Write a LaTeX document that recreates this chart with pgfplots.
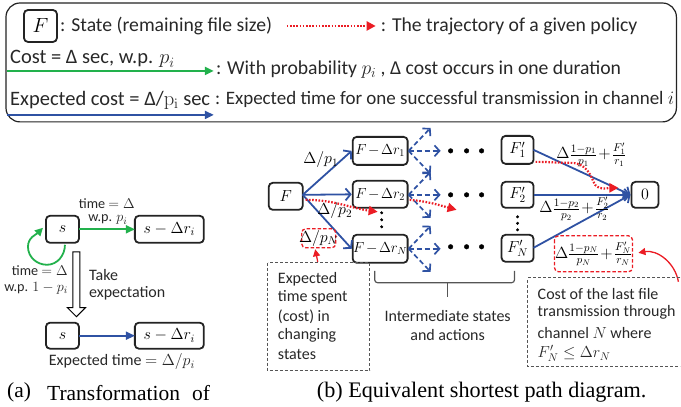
\RequirePackage{fix-cm}
\documentclass[border=0pt]{standalone}
\usepackage{pgfplots}
\pgfplotsset{compat=1.18}
\usepackage[no-math]{fontspec}
\setmainfont{Carlito}
\newfontfamily\capfont{Liberation Serif}
\usetikzlibrary{arrows.meta}
\definecolor{myblue}{RGB}{47,82,163}
\definecolor{mygreen}{RGB}{34,177,76}
\definecolor{myred}{RGB}{235,28,36}
\definecolor{boxc}{RGB}{35,35,35}
\definecolor{dashc}{RGB}{85,85,85}
\definecolor{txt}{RGB}{40,40,40}
\newcommand\fsL{\fontsize{20.5bp}{23bp}\selectfont}
\newcommand\fsR{\fontsize{19.7bp}{23bp}\selectfont}
\newcommand\fsRR{\fontsize{19bp}{23bp}\selectfont}
\newcommand\fsA{\fontsize{16bp}{19bp}\selectfont}
\newcommand\fsS{\fontsize{14.2bp}{18bp}\selectfont}
\newcommand\fsM{\fontsize{14.6bp}{17bp}\selectfont}
\newcommand\fsF{\fontsize{16.2bp}{19bp}\selectfont}
\newcommand\fsC{\fontsize{21.5bp}{25bp}\selectfont}
\newcommand\fsCb{\fontsize{22.2bp}{25bp}\selectfont}
\tikzset{
  sbox/.style={draw=boxc, line width=1.8bp, rounded corners=4bp},
  barrow/.style={draw=myblue, line width=1.8bp, -{Straight Barb[length=5bp,width=12bp]}},
  bdash/.style={draw=myblue, line width=1.7bp, dash pattern=on 5bp off 3bp, -{Straight Barb[length=5bp,width=11bp]}},
  tarrow/.style={line width=2bp, -{Triangle[length=9bp,width=8bp]}},
  rdot/.style={draw=myred, line width=2.2bp, dash pattern=on 1.6bp off 1.6bp, -{Triangle[length=9bp,width=9bp]}},
  rarrow/.style={draw=myred, line width=1.3bp, -{Triangle[length=7bp,width=7bp]}},
  rbox/.style={draw=myred, line width=1.3bp, dash pattern=on 3.5bp off 2bp, rounded corners=4bp},
  gbox/.style={draw=dashc, line width=1.2bp, dash pattern=on 3bp off 2bp},
}
\newcommand\costfrac[1]{$\medmuskip=1.5mu\Delta\frac{1-p_{#1}}{p_{#1}}+\frac{F'_{#1}}{r_{#1}}$}
\newcommand\stfr[1]{$\medmuskip=2mu F-\Delta r_{#1}$}
\begin{document}
\begin{tikzpicture}
\begin{axis}[scale only axis, width=681bp, height=407bp,
  xmin=0, xmax=681, ymin=0, ymax=407, y dir=reverse,
  hide axis, clip=false]
\path (0,0) rectangle (681,407);
% ---------------- legend ----------------
\draw[boxc, line width=1.2bp, rounded corners=14bp] (6,3) rectangle (677,122);
\draw[sbox] (24,10) rectangle (57,42);
\node[font=\fsL] at (40.5,26) {$F$};
\node[font=\fsR, text=txt, anchor=west, inner sep=0] at (60,26) {: State (remaining file size)};
\draw[rdot] (287,26) -- (376,26);
\node[font=\fsR, text=txt, anchor=west, inner sep=0] at (381,26) {: The trajectory of a given policy};
\node[font=\fsL, text=txt, anchor=base west, inner sep=0] at (10,64) {Cost = Δ sec, w.p. $p_i$};
\draw[tarrow, mygreen] (7,71) -- (214,71);
\node[font=\fsR, text=txt, anchor=west, inner sep=0] at (216,70) {: With probability $p_i$ , Δ cost occurs in one duration};
\node[font=\fsL, text=txt, anchor=base west, inner sep=0] at (10,106) {Expected cost = Δ/$\mathrm{p_i}$ sec};
\draw[tarrow, myblue] (7,115) -- (214,115);
\node[font=\fsRR, text=txt, anchor=west, inner sep=0] at (215,100) {: Expected time for one successful transmission in channel $i$};
% ---------------- panel (a) ----------------
\draw[sbox] (46,216) rectangle (79,243);
\node[font=\fsA] at (62.5,229.5) {$s$};
\draw[sbox] (135,216) rectangle (204,243);
\node[font=\fsA] at (169.5,229.5) {$s-\Delta r_i$};
\draw[tarrow, mygreen, line width=1.8bp] (79,229.5) -- (135,229.5);
\node[font=\fsS, text=txt, inner sep=0] at (107,203.5) {time $=\Delta$};
\node[font=\fsS, text=txt, inner sep=0] at (108,220) {w.p. $p_i$};
\draw[mygreen, line width=1.8bp, -{Triangle[length=8bp,width=8bp]}]
  (65,245) to[out=-90,in=0] (47,265) to[out=180,in=-90] (28,247) to[out=90,in=225] (43,228);
\node[font=\fsS, text=txt, anchor=east, inner sep=0] at (68,271) {time $=\Delta$};
\node[font=\fsS, text=txt, anchor=east, inner sep=0] at (68,288.5) {w.p. $1-p_i$};
\draw[black, line width=1bp, fill=white] (73,252) -- (80,252) -- (80,308) -- (85.5,308) -- (76.5,317) -- (67.5,308) -- (73,308) -- cycle;
\node[font=\fsA, text=txt, anchor=west, inner sep=0] at (89,275) {Take};
\node[font=\fsA, text=txt, anchor=west, inner sep=0] at (89,294) {expectation};
\draw[sbox] (46,323) rectangle (79,349);
\node[font=\fsA] at (62.5,336) {$s$};
\draw[sbox] (135,323) rectangle (204,349);
\node[font=\fsA] at (169.5,336) {$s-\Delta r_i$};
\draw[tarrow, myblue, line width=1.8bp] (79,336) -- (135,336);
\node[font=\fsA, text=txt, inner sep=0] at (122,362) {Expected time $=\Delta/p_i$};
\node[font=\fsC, anchor=west, inner sep=0] at (7,393) {\capfont (a)};
\node[font=\fsC, anchor=west, inner sep=0] at (47,393) {\capfont Transformation};
\node[font=\fsC, anchor=west, inner sep=0] at (192,393) {\capfont of};
% ---------------- panel (b) ----------------
\draw[sbox] (269,183) rectangle (303,210);
\node[font=\fsA] at (286,196.5) {$F$};
\draw[sbox] (353,137) rectangle (408,165);
\node[font=\fsM] at (380.5,151) {\stfr{1}};
\draw[sbox] (353,181) rectangle (408,208);
\node[font=\fsM] at (380.5,194.5) {\stfr{2}};
\draw[sbox] (353,235) rectangle (408,263);
\node[font=\fsM] at (380.5,249) {\stfr{N}};
\draw[sbox] (502,136) rectangle (534,164);
\node[font=\fsA] at (518,150) {$F'_1$};
\draw[sbox] (502,182) rectangle (534,208);
\node[font=\fsA] at (518,195) {$F'_2$};
\draw[sbox] (502,235) rectangle (534,262);
\node[font=\fsA] at (518,248.5) {$F'_N$};
\draw[sbox] (632,182) rectangle (659,208);
\node[font=\fsA] at (645.5,195) {$0$};
% solid blue arrows
\draw[barrow] (303,195) -- (352,151);
\draw[barrow] (303,195) -- (352,194.5);
\draw[barrow] (303,195) -- (352,249);
\draw[barrow] (534,150) -- (631,195);
\draw[barrow] (534,195) -- (631,195);
\draw[barrow] (534,248) -- (631,195);
% dashed blue arrows
\draw[bdash] (409,151) -- (431,128);
\draw[bdash] (409,151) -- (441,151);
\draw[bdash] (409,151) -- (431,174);
\draw[bdash] (409,195) -- (431,172);
\draw[bdash] (409,195) -- (441,195);
\draw[bdash] (409,195) -- (431,218);
\draw[bdash] (409,249) -- (431,226);
\draw[bdash] (409,249) -- (441,249);
\draw[bdash] (409,249) -- (431,272);
% dots
\addplot[only marks, mark=*, mark size=2.3bp, black] coordinates {
 (451,151) (467,151) (482,151)
 (451,195) (467,195) (482,195)
 (451,247) (467,247) (482,247)};
\addplot[only marks, mark=*, mark size=1.3bp, black] coordinates {
 (382,213) (382,220) (382,227)
 (518,217) (518,223.5) (518,230)};
% labels
\node[font=\fsA] at (321,160) {$\Delta/p_1$};
\node[font=\fsA] at (335,211) {$\Delta/p_2$};
\draw[rbox] (302,229) rectangle (336,248);
\node[font=\fsA] at (319,238.5) {$\Delta/p_N$};
\draw[rarrow] (318,262) -- (315.5,249.5);
\node[font=\fsF, inner sep=0] at (592,155) {\costfrac{1}};
\node[font=\fsF, inner sep=0] at (575,209) {\costfrac{2}};
\draw[rbox] (555,236) rectangle (633,272);
\node[font=\fsF, inner sep=0] at (594,254) {\costfrac{N}};
\draw[rarrow] (679,282) to[out=100,in=10] (639,253);
% red dotted trajectories
\draw[rdot] (306,200) to[out=0,in=172] (378,212);
\draw[rdot] (410,200) to[out=-5,in=165] (457,210);
\draw[rdot] (536,162) to[out=0,in=180] (572,163) to[out=0,in=110] (594,182) to[out=-70,in=180] (619,188);
% brace
\draw[dashc, line width=1.2bp, rounded corners=3bp] (375,271) |- (448,283) -| (515,271);
\draw[dashc, line width=1.2bp] (448,283) -- (448,297);
% annotation boxes
\draw[gbox] (268,263) rectangle (370,371);
\node[font=\fsA, text=txt, anchor=west, inner sep=0] at (278,279) {Expected};
\node[font=\fsA, text=txt, anchor=west, inner sep=0] at (278,298) {time spent};
\node[font=\fsA, text=txt, anchor=west, inner sep=0] at (278,317) {(cost) in};
\node[font=\fsA, text=txt, anchor=west, inner sep=0] at (278,336) {changing};
\node[font=\fsA, text=txt, anchor=west, inner sep=0] at (278,355) {states};
\node[font=\fsA, text=txt, inner sep=0] at (448,316) {Intermediate states};
\node[font=\fsA, text=txt, inner sep=0] at (448,335) {and actions};
\draw[gbox] (681,278) -- (528,278) -- (528,367) -- (681,367);
\node[font=\fsA, text=txt, anchor=west, inner sep=0] at (538,294) {Cost of the last file};
\node[font=\fsA, text=txt, anchor=west, inner sep=0] at (538,313) {transmission through};
\node[font=\fsA, text=txt, anchor=west, inner sep=0] at (538,333) {channel $N$ where};
\node[font=\fsA, text=txt, anchor=west, inner sep=0] at (538,354) {$F'_N\le\Delta r_N$};
\node[font=\fsCb, anchor=west, inner sep=0] at (317,393) {\capfont (b) Equivalent shortest path diagram.};
\end{axis}
\end{tikzpicture}
\end{document}
